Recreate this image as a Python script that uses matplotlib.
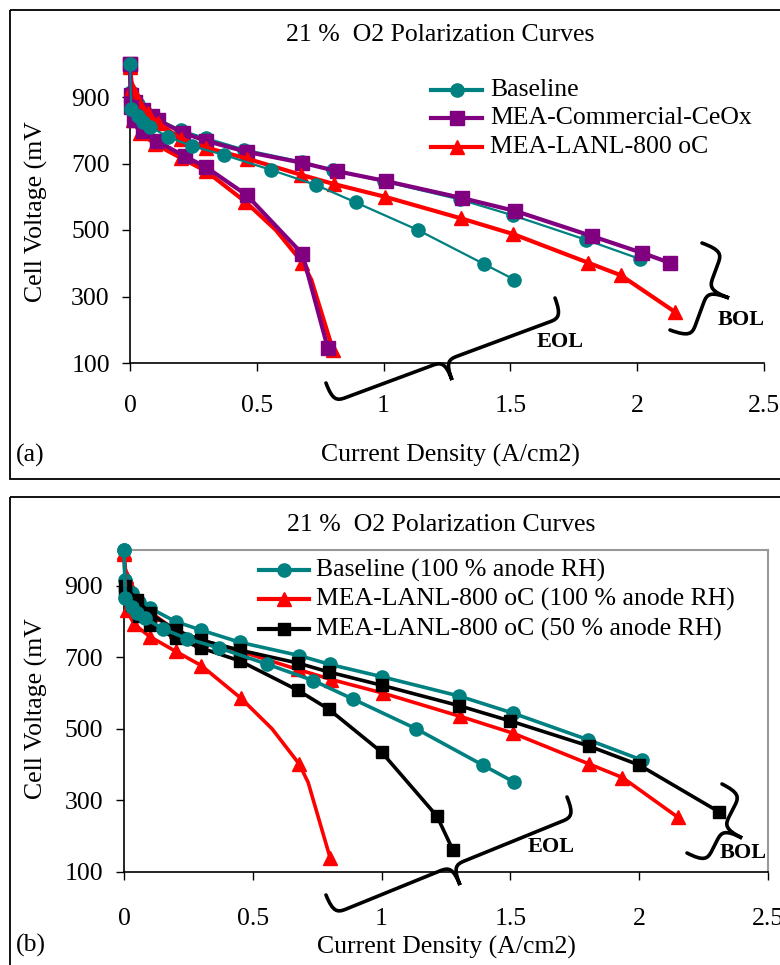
import matplotlib
matplotlib.use('Agg')
import matplotlib.pyplot as plt
from matplotlib.patches import Rectangle, PathPatch
from matplotlib.path import Path
from matplotlib.lines import Line2D
from matplotlib.transforms import Affine2D
import numpy as np

plt.rcParams['font.family'] = ['Liberation Serif', 'DejaVu Serif']

# ---------------- data ----------------
x_ticks = [0, 0.5, 1, 1.5, 2, 2.5]
x_tick_labels = ['0', '0.5', '1', '1.5', '2', '2.5']
y_ticks = [100, 300, 500, 700, 900]

base_bol_x = [0, 0.005, 0.03, 0.06, 0.10, 0.20, 0.30, 0.45, 0.68, 0.80, 1.00, 1.30, 1.51, 1.80, 2.01]
base_bol_y = [1000, 915, 880, 855, 838, 800, 776, 742, 705, 680, 646, 592, 544, 470, 413]
base_eol_x = [0, 0.005, 0.03, 0.05, 0.08, 0.15, 0.245, 0.37, 0.555, 0.735, 0.89, 1.135, 1.395, 1.515]
base_eol_y = [1000, 865, 842, 825, 810, 780, 752, 726, 681, 635, 583, 500, 398, 351]

ceox_bol_x = [0, 0.005, 0.02, 0.05, 0.085, 0.11, 0.21, 0.30, 0.46, 0.68, 0.815, 1.01, 1.31, 1.52, 1.82, 2.02, 2.13]
ceox_bol_y = [1000, 905, 885, 862, 842, 830, 792, 768, 735, 702, 677, 647, 596, 557, 482, 431, 401]
ceox_eol_x = [0, 0.003, 0.015, 0.05, 0.105, 0.215, 0.30, 0.46, 0.64, 0.68, 0.78]
ceox_eol_y = [1000, 870, 830, 797, 768, 722, 689, 605, 460, 428, 145]
ceox_eol_unmarked = [8]

lanl_bol_x = [0, 0.008, 0.03, 0.07, 0.11, 0.20, 0.30, 0.46, 0.675, 0.805, 1.005, 1.305, 1.51, 1.805, 1.935, 2.15]
lanl_bol_y = [995, 927, 888, 852, 822, 775, 748, 715, 666, 638, 600, 535, 488, 402, 364, 253]
lanl_eol_x = [0, 0.01, 0.04, 0.10, 0.20, 0.30, 0.455, 0.575, 0.68, 0.715, 0.80]
lanl_eol_y = [990, 832, 792, 758, 717, 677, 585, 500, 402, 350, 140]
lanl_eol_unmarked = [7, 9]

lanl50_bol_x = [0.005, 0.05, 0.10, 0.20, 0.30, 0.45, 0.675, 0.795, 1.00, 1.30, 1.50, 1.805, 2.00, 2.31]
lanl50_bol_y = [898, 860, 823, 776, 748, 720, 684, 659, 622, 565, 522, 452, 399, 268]
lanl50_eol_x = [0.005, 0.03, 0.06, 0.10, 0.20, 0.30, 0.45, 0.675, 0.795, 1.00, 1.215, 1.277]
lanl50_eol_y = [880, 845, 815, 790, 754, 726, 690, 608, 555, 435, 256, 161]

title_text = '21 %  O2 Polarization Curves'
xlabel_text = 'Current Density (A/cm2)'
ylabel_text = 'Cell Voltage (mV'
legend_a = ['Baseline', 'MEA-Commercial-CeOx', 'MEA-LANL-800 oC']
legend_b = ['Baseline (100 % anode RH)', 'MEA-LANL-800 oC (100 % anode RH)',
            'MEA-LANL-800 oC (50 % anode RH)']

TEAL = '#008080'
PURPLE = '#800080'
RED = '#FF0000'
BLACK = '#000000'

# ---------------- figure ----------------
W, H = 780, 965
fig = plt.figure(figsize=(W / 100, H / 100), dpi=100)
PX = Affine2D().scale(1 / W, -1 / H).translate(0, 1) + fig.transFigure
FS = 18.5


def add_axes_px(l, t, r, b):
    return fig.add_axes([l / W, 1 - b / H, (r - l) / W, (b - t) / H])


def series(ax, x, y, color, marker, lw, ms, unmarked=(), z=2):
    idx = [i for i in range(len(x)) if i not in unmarked]
    ax.plot(x, y, color=color, lw=lw, marker=marker, ms=ms, markevery=idx,
            mec=color, mfc=color, clip_on=False, zorder=z,
            solid_joinstyle='round', solid_capstyle='round')


def brace(A, B, tip, r=13, lw=2.6):
    A = np.array(A, float); B = np.array(B, float); tip = np.array(tip, float)
    L = np.linalg.norm(B - A)
    u = (B - A) / L
    n = np.array([-u[1], u[0]])
    if np.dot(tip - A, n) < 0:
        n = -n
    st = np.dot(tip - A, u)
    h = np.dot(tip - A, n) / 2
    loc = [(0, 0),
           (0, 0.9 * h), (0.3 * r, h), (r, h),
           (st - r, h),
           (st - 0.3 * r, h), (st, 1.1 * h), (st, 2 * h),
           (st, 1.1 * h), (st + 0.3 * r, h), (st + r, h),
           (L - r, h),
           (L - 0.3 * r, h), (L, 0.9 * h), (L, 0)]
    codes = [Path.MOVETO] + [Path.CURVE4] * 3 + [Path.LINETO] + [Path.CURVE4] * 6 + \
            [Path.LINETO] + [Path.CURVE4] * 3
    verts = [A + s * u + v * n for s, v in loc]
    fig.add_artist(PathPatch(Path(verts, codes), transform=PX, fill=False,
                             lw=lw, ec='black', capstyle='round'))


def style_axes(ax, xpad, ypad):
    ax.set_xlim(0, 2.5)
    ax.set_ylim(100, 1000)
    ax.set_xticks(x_ticks)
    ax.set_xticklabels(x_tick_labels)
    ax.set_yticks(y_ticks)
    ax.tick_params(axis='x', direction='out', length=6, width=1, labelsize=FS, pad=xpad)
    ax.tick_params(axis='y', direction='out', length=6, width=1, labelsize=FS, pad=ypad)
    ax.spines['left'].set_linewidth(1.2)
    ax.spines['bottom'].set_linewidth(1.2)
    ax.patch.set_alpha(0)


def legend_entry(x0, x1, xt, y, color, marker, lw, ms, label):
    fig.add_artist(Line2D([x0, x1], [y, y], color=color, lw=lw, transform=PX))
    fig.add_artist(Line2D([(x0 + x1) / 2], [y], color=color, marker=marker, ms=ms,
                          mec=color, mfc=color, transform=PX))
    fig.text(xt, y, label, transform=PX, ha='left', va='center', fontsize=FS)


# panel frames
fig.add_artist(Rectangle((10, 9.5), 800, 469.5, transform=PX, fill=False, lw=1.3, ec='black'))
fig.add_artist(Rectangle((10, 497), 800, 480, transform=PX, fill=False, lw=1.3, ec='black'))

# ---------------- panel (a) ----------------
axa = add_axes_px(130, 63.75, 764, 363)
style_axes(axa, 17, 8.5)
axa.spines['top'].set_visible(False)
axa.spines['right'].set_visible(False)

series(axa, base_bol_x, base_bol_y, TEAL, 'o', 1.6, 9.5, z=2)
series(axa, ceox_bol_x, ceox_bol_y, PURPLE, 's', 3.0, 9.5, z=3)
series(axa, lanl_bol_x, lanl_bol_y, RED, '^', 3.0, 10, z=4)
series(axa, lanl_eol_x, lanl_eol_y, RED, '^', 3.0, 10, lanl_eol_unmarked, z=5)
series(axa, ceox_eol_x, ceox_eol_y, PURPLE, 's', 3.0, 9.5, ceox_eol_unmarked, z=6)
series(axa, base_eol_x, base_eol_y, TEAL, 'o', 1.6, 9.5, z=7)

fig.text(440, 35, title_text, transform=PX, ha='center', va='center', fontsize=FS)
fig.text(450, 455, xlabel_text, transform=PX, ha='center', va='center', fontsize=FS)
fig.text(16, 455, '(a)', transform=PX, ha='left', va='center', fontsize=FS)
fig.text(36, 212, ylabel_text, transform=PX, ha='center', va='center', fontsize=18.5,
         rotation=90)

legend_entry(431, 482, 490, 90, TEAL, 'o', 3.0, 9.5, legend_a[0])
legend_entry(431, 482, 490, 118, PURPLE, 's', 3.0, 9.5, legend_a[1])
legend_entry(431, 482, 490, 147, RED, '^', 3.0, 10, legend_a[2])

brace((326, 383), (555, 298), (452, 380))
brace((702, 243), (670, 330), (729, 298))
fig.text(560, 342, 'EOL', transform=PX, ha='center', va='center', fontsize=16, fontweight='bold')
fig.text(741, 320, 'BOL', transform=PX, ha='center', va='center', fontsize=16, fontweight='bold')

# ---------------- panel (b) ----------------
axb = add_axes_px(124, 550, 768, 872)
style_axes(axb, 20, 9)
axb.spines['top'].set_color('#999999')
axb.spines['right'].set_color('#999999')
axb.spines['top'].set_linewidth(1.5)
axb.spines['right'].set_linewidth(1.5)

series(axb, lanl_bol_x, lanl_bol_y, RED, '^', 2.6, 10, z=2)
series(axb, base_bol_x, base_bol_y, TEAL, 'o', 2.6, 9.5, z=3)
series(axb, lanl50_bol_x, lanl50_bol_y, BLACK, 's', 2.6, 8.5, z=4)
series(axb, lanl_eol_x, lanl_eol_y, RED, '^', 2.6, 10, lanl_eol_unmarked, z=5)
series(axb, lanl50_eol_x, lanl50_eol_y, BLACK, 's', 2.6, 8.5, z=6)
series(axb, base_eol_x, base_eol_y, TEAL, 'o', 2.6, 9.5, z=7)

fig.text(441, 525, title_text, transform=PX, ha='center', va='center', fontsize=FS)
fig.text(446, 947, xlabel_text, transform=PX, ha='center', va='center', fontsize=FS)
fig.text(16, 945, '(b)', transform=PX, ha='left', va='center', fontsize=FS)
fig.text(36, 709, ylabel_text, transform=PX, ha='center', va='center', fontsize=18.5,
         rotation=90)

legend_entry(259, 309, 316, 570, TEAL, 'o', 3.0, 9.5, legend_b[0])
legend_entry(259, 309, 316, 599, RED, '^', 3.0, 10, legend_b[1])
legend_entry(259, 309, 316, 629, BLACK, 's', 3.0, 8.5, legend_b[2])

brace((326, 895), (567, 797), (460, 885))
brace((722, 784), (687, 853), (742, 838))
fig.text(551, 847, 'EOL', transform=PX, ha='center', va='center', fontsize=16, fontweight='bold')
fig.text(743, 853, 'BOL', transform=PX, ha='center', va='center', fontsize=16, fontweight='bold')

fig.savefig('out.png', dpi=100)
